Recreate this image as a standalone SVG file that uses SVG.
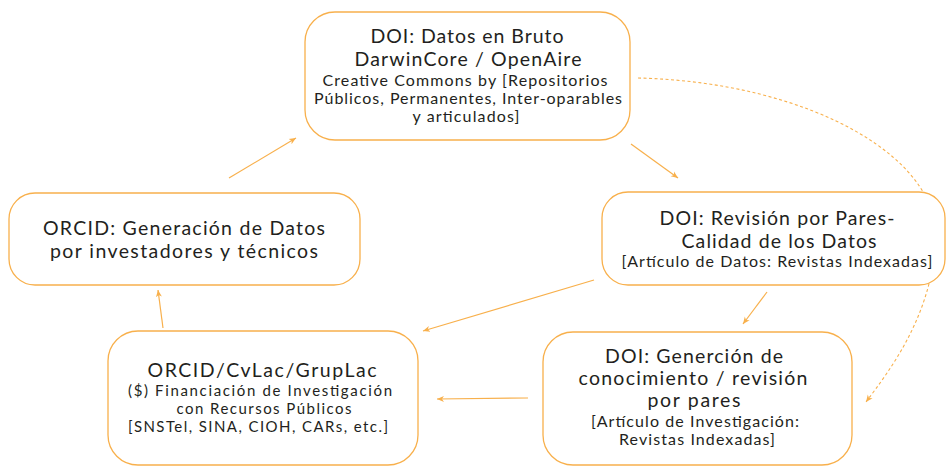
<svg xmlns="http://www.w3.org/2000/svg" width="946" height="466" viewBox="0 0 946 466">
<style>
.box{fill:#fff;stroke:#F8B04C;stroke-width:1.3}
.ln{fill:none;stroke:#F8B04C;stroke-width:1.2}
.dash{fill:none;stroke:#F8B04C;stroke-width:1.1;stroke-dasharray:3 2.5}
text{font-family:Lato,"Liberation Sans",sans-serif;font-weight:400;fill:#231F20;text-anchor:middle}
.b{font-size:19.5px}
.s{font-size:16px}
.t{font-size:15px}
</style>
<defs>
<marker id="ah" markerWidth="8" markerHeight="8" refX="7" refY="4" orient="auto" markerUnits="userSpaceOnUse">
<path d="M0,1 L7,4 L0,7 L2,4 Z" fill="#F8B04C"/>
</marker>
</defs>
<g id="connectors">
<path class="dash" d="M638,78 C810,82 950,160 935,250 C928,320 890,370 866,402" marker-end="url(#ah)"/>
<line class="ln" x1="229" y1="178" x2="296" y2="138" marker-end="url(#ah)"/>
<line class="ln" x1="163" y1="328" x2="158" y2="290" marker-end="url(#ah)"/>
<line class="ln" x1="631" y1="144" x2="678" y2="178" marker-end="url(#ah)"/>
<line class="ln" x1="767" y1="292" x2="743" y2="324" marker-end="url(#ah)"/>
<line class="ln" x1="594" y1="280" x2="423" y2="331" marker-end="url(#ah)"/>
<line class="ln" x1="528" y1="398" x2="437" y2="399" marker-end="url(#ah)"/>
</g>
<g id="node-datos-bruto">
<rect class="box" x="305" y="12" width="325" height="128" rx="30"/>
<text class="b" x="467" y="43" textLength="193">DOI: Datos en Bruto</text>
<text class="b" x="468" y="66" textLength="227">DarwinCore / OpenAire</text>
<text class="s" x="465" y="86" textLength="285">Creative Commons by [Repositorios</text>
<text class="s" x="468" y="104" textLength="308">Públicos, Permanentes, Inter-oparables</text>
<text class="s" x="466" y="122" textLength="107">y articulados]</text>
</g>
<g id="node-revision-pares">
<rect class="box" x="602" y="192" width="343" height="93" rx="26"/>
<text class="b" x="777" y="225" textLength="235">DOI: Revisión por Pares-</text>
<text class="b" x="779" y="248" textLength="195">Calidad de los Datos</text>
<text class="s" x="777" y="267" textLength="311">[Artículo de Datos: Revistas Indexadas]</text>
</g>
<g id="node-generacion-conocimiento">
<rect class="box" x="543" y="332" width="309" height="133" rx="30"/>
<text class="b" x="694" y="363" textLength="178">DOI: Generción de</text>
<text class="b" x="693" y="385" textLength="229">conocimiento / revisión</text>
<text class="b" x="694" y="407" textLength="93">por pares</text>
<text class="s" x="695" y="427" textLength="208">[Artículo de Investigación:</text>
<text class="s" x="697" y="445" textLength="156">Revistas Indexadas]</text>
</g>
<g id="node-financiacion">
<rect class="box" x="108" y="331" width="310" height="134" rx="30"/>
<text class="b" x="262" y="377" textLength="229">ORCID/CvLac/GrupLac</text>
<text class="t" x="260" y="396" textLength="264">($) Financiación de Investigación</text>
<text class="t" x="264" y="414" textLength="175">con Recursos Públicos</text>
<text class="t" x="258" y="432" textLength="260">[SNSTel, SINA, CIOH, CARs, etc.]</text>
</g>
<g id="node-generacion-datos">
<rect class="box" x="9" y="193" width="351" height="92" rx="26"/>
<text class="b" x="184" y="235" textLength="282">ORCID: Generación de Datos</text>
<text class="b" x="184" y="258" textLength="268">por investadores y técnicos</text>
</g>
</svg>
